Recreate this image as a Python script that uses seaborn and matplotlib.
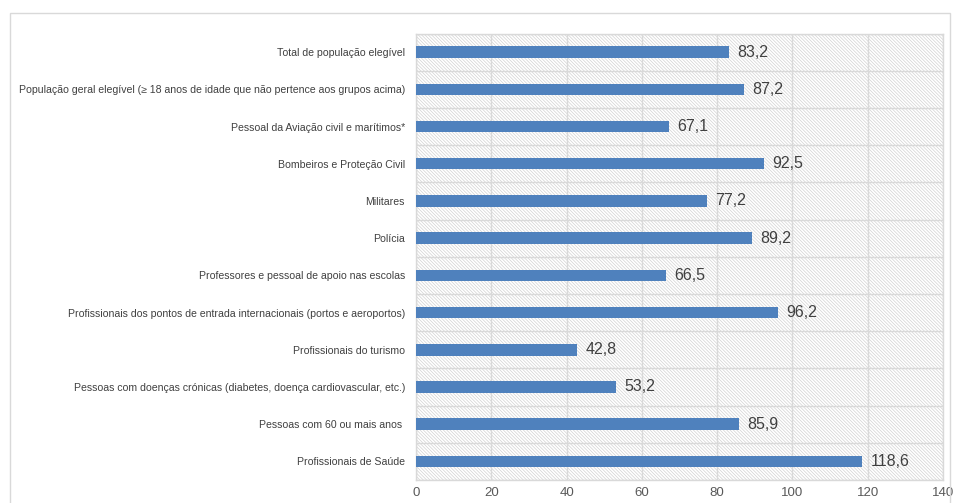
import matplotlib
matplotlib.use("Agg")
import matplotlib.pyplot as plt
import seaborn as sns
import pandas as pd
import numpy as np
from matplotlib.patches import Rectangle

categories = [
    "Total de população elegível",
    "População geral elegível (≥ 18 anos de idade que não pertence aos grupos acima)",
    "Pessoal da Aviação civil e marítimos*",
    "Bombeiros e Proteção Civil",
    "Militares",
    "Polícia",
    "Professores e pessoal de apoio nas escolas",
    "Profissionais dos pontos de entrada internacionais (portos e aeroportos)",
    "Profissionais do turismo",
    "Pessoas com doenças crónicas (diabetes, doença cardiovascular, etc.)",
    "Pessoas com 60 ou mais anos ",
    "Profissionais de Saúde",
]
values = [83.2, 87.2, 67.1, 92.5, 77.2, 89.2, 66.5, 96.2, 42.8, 53.2, 85.9, 118.6]
x_ticks = [0, 20, 40, 60, 80, 100, 120, 140]

sns.set_theme(style="white")
plt.rcParams['font.family'] = ['Liberation Sans', 'DejaVu Sans']
plt.rcParams['hatch.linewidth'] = 0.5

df = pd.DataFrame({"cat": categories, "val": values})

fig = plt.figure(figsize=(9.54, 5.03), dpi=100)
fig.patches.append(Rectangle((10/954, -0.1), (950-10)/954, 1 - 13/503 + 0.1,
                             transform=fig.transFigure, fill=False,
                             edgecolor="#d9d9d9", linewidth=1, zorder=0))
ax = fig.add_axes([416/954, 1 - 480/503, (943-416)/954, (480-33.5)/503])

sns.barplot(data=df, y="cat", x="val", color="#4F81BD", saturation=1,
            width=0.31, ax=ax, zorder=3, linewidth=0)

ax.patch.set_facecolor("white")
ax.patch.set_hatch("\\" * 10)
ax.patch.set_edgecolor("#d2d2d2")
ax.patch.set_linewidth(0)

ax.set_xlim(0, 140)
ax.set_ylim(len(categories) - 0.5, -0.5)
ax.set_xticks(x_ticks)
ax.set_xticklabels([str(t) for t in x_ticks], fontsize=9.5, color="#595959")
ax.tick_params(axis='x', length=0, pad=5)
ax.set_yticks(range(len(categories)))
ax.set_yticklabels(categories, fontsize=7.55, color="#404040")
ax.set_yticks(np.arange(-0.5, len(categories), 1.0), minor=True)
ax.tick_params(axis='y', which='major', length=0, pad=8)
ax.tick_params(axis='y', which='minor', length=3, color="#d9d9d9", width=1)
ax.grid(True, axis='x', color="#d9d9d9", linewidth=1, zorder=1)
ax.grid(True, axis='y', which='minor', color="#d9d9d9", linewidth=1, zorder=1)
ax.grid(False, axis='y', which='major')
ax.set_axisbelow(True)
for s in ax.spines.values():
    s.set_color("#d9d9d9")
    s.set_linewidth(1)
ax.set_xlabel("")
ax.set_ylabel("")

labels = [f"{v:.1f}".replace(".", ",") for v in values]
ax.bar_label(ax.containers[0], labels=labels, padding=6, fontsize=11.5, color="#404040")

fig.savefig("out.png", dpi=100)
